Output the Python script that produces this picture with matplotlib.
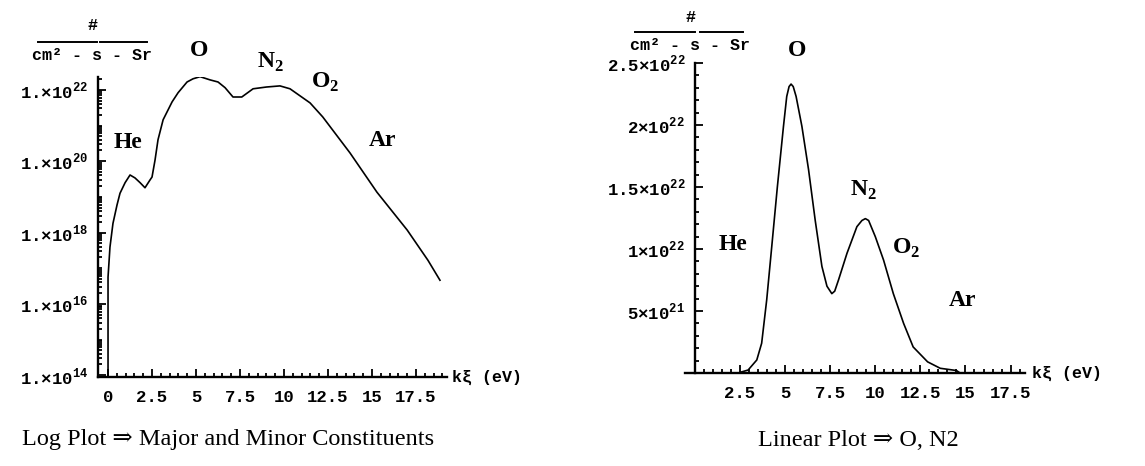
import numpy as np
import matplotlib.pyplot as plt
from matplotlib.ticker import FixedLocator, NullFormatter

plt.rcParams['mathtext.fontset'] = 'custom'
plt.rcParams['mathtext.rm'] = 'Liberation Mono:bold'
plt.rcParams['mathtext.bf'] = 'Liberation Serif:bold'

# Log plot: flux vs energy, all constituents
log_energy = [0, 0, 0.11, 0.28, 0.51, 0.68, 0.97, 1.25, 1.53, 1.82, 2.1, 2.39,
              2.5, 2.67, 2.84, 3.13, 3.64, 3.98, 4.49, 4.83, 5.23, 5.8, 6.25,
              6.65, 7.1, 7.6, 8.24, 9.0, 9.77, 10.34, 11.48, 12.2, 13.75,
              15.28, 17.0, 18.18, 18.86]
log_flux = [8.9e13, 5.6e16, 3.9e17, 1.8e18, 5.9e18, 1.26e19, 2.5e19, 4.1e19,
            3.4e19, 2.5e19, 1.8e19, 3.0e19, 3.6e19, 1.07e20, 4.0e20, 1.45e21,
            4.6e21, 8.3e21, 1.66e22, 2.04e22, 2.34e22, 1.9e22, 1.66e22,
            1.15e22, 6.3e21, 6.3e21, 1.07e22, 1.2e22, 1.29e22, 1.07e22,
            4.3e21, 1.74e21, 1.7e20, 1.35e19, 1.17e18, 1.66e17, 4.6e16]

# Linear plot: flux (units of 1e21) vs energy
lin_energy = [2.5, 2.95, 3.43, 3.7, 3.98, 4.26, 4.57, 4.91, 5.09, 5.22, 5.33,
              5.45, 5.61, 5.93, 6.3, 6.67, 7.04, 7.32, 7.59, 7.75, 7.96, 8.43,
              8.98, 9.26, 9.45, 9.63, 10.0, 10.46, 11.0, 11.57, 12.1, 12.9,
              13.6, 14.5, 14.7]
lin_flux = [0.05, 0.24, 1.05, 2.4, 5.9, 10.2, 15.0, 19.9, 22.3, 23.1, 23.3,
            23.1, 22.3, 19.9, 16.4, 12.3, 8.6, 7.0, 6.4, 6.6, 7.5, 9.65,
            11.8, 12.3, 12.45, 12.3, 11.0, 9.1, 6.4, 4.0, 2.1, 0.9, 0.38,
            0.2, 0.0]

log_yticks = [1e14, 1e16, 1e18, 1e20, 1e22]
log_ylabels = ['1.×10$^{14}$', '1.×10$^{16}$', '1.×10$^{18}$',
               '1.×10$^{20}$', '1.×10$^{22}$']
lin_yticks = [5e21, 1e22, 1.5e22, 2e22, 2.5e22]
lin_ylabels = ['5×10$^{21}$', '1×10$^{22}$', '1.5×10$^{22}$',
               '2×10$^{22}$', '2.5×10$^{22}$']
log_xticks = [0, 2.5, 5, 7.5, 10, 12.5, 15, 17.5]
log_xlabels = ['0', '2.5', '5', '7.5', '10', '12.5', '15', '17.5']
lin_xticks = [2.5, 5, 7.5, 10, 12.5, 15, 17.5]
lin_xlabels = ['2.5', '5', '7.5', '10', '12.5', '15', '17.5']

W, H = 1145, 466
fig = plt.figure(figsize=(W / 100, H / 100), dpi=100)


def box(x0, y0, x1, y1):
    return [x0 / W, 1 - y1 / H, (x1 - x0) / W, (y1 - y0) / H]


def ftext(x, y, s, **kw):
    fig.text(x / W, 1 - y / H, s, **kw)


mono = dict(family='Liberation Mono', fontweight='bold', fontsize=12)
bold = dict(family='Liberation Serif', fontweight='bold', fontsize=17,
            ha='center', va='center')
serif = dict(family=['Liberation Serif', 'DejaVu Serif'], fontsize=17.5,
             ha='center', va='center')


def style_axes(ax):
    for s in ['top', 'right']:
        ax.spines[s].set_visible(False)
    for s in ['left', 'bottom']:
        ax.spines[s].set_linewidth(1.7)
    ax.tick_params(which='both', direction='in', width=1.3, labelsize=12.5)
    ax.tick_params(which='major', length=6)
    ax.tick_params(which='minor', length=3)
    for lab in ax.get_xticklabels() + ax.get_yticklabels():
        lab.set_family('Liberation Mono')
        lab.set_fontweight('bold')


# ---- log plot ----
ax1 = fig.add_axes(box(98, 77, 447, 377))
ax1.plot(log_energy, log_flux, color='black', lw=1.2)
ax1.set_yscale('log')
ax1.set_xlim(-0.57, 19.26)
ax1.set_ylim(10 ** 13.95, 10 ** 22.36)
ax1.set_yticks(log_yticks)
ax1.set_yticklabels(log_ylabels)
minor_y = [k * 10.0 ** d for d in range(13, 23) for k in range(1, 10)
           if k * 10.0 ** d not in log_yticks]
ax1.yaxis.set_minor_locator(FixedLocator(minor_y))
ax1.yaxis.set_minor_formatter(NullFormatter())
ax1.set_xticks(log_xticks)
ax1.set_xticklabels(log_xlabels)
ax1.xaxis.set_minor_locator(FixedLocator(np.arange(0, 19.01, 0.5)))
style_axes(ax1)
ax1.tick_params(axis='y', pad=7)
ax1.tick_params(axis='x', pad=9)

# ---- linear plot ----
ax2 = fig.add_axes(box(685, 63, 1025, 373))
ax2.plot(lin_energy, np.array(lin_flux) * 1e21, color='black', lw=1.2)
ax2.set_xlim(-0.55, 18.3)
ax2.set_ylim(0, 2.5e22)
ax2.spines['left'].set_position(('data', 0))
ax2.set_yticks(lin_yticks)
ax2.set_yticklabels(lin_ylabels)
ax2.yaxis.set_minor_locator(FixedLocator(np.arange(1e21, 2.5e22, 1e21)))
ax2.set_xticks(lin_xticks)
ax2.set_xticklabels(lin_xlabels)
ax2.xaxis.set_minor_locator(FixedLocator(np.arange(0.5, 18.01, 0.5)))
style_axes(ax2)
ax2.tick_params(axis='y', pad=7)
ax2.tick_params(axis='x', pad=9)

# unit labels above the y axes
for cx, y_hash, y_bar, y_den, bars in [
        (92, 26, 42, 55, [(38, 97), (100, 147)]),
        (690, 18, 32, 46, [(635, 695), (700, 743)])]:
    ftext(cx, y_hash, '#', ha='center', va='center', **mono)
    for x0, x1 in bars:
        fig.add_artist(plt.Line2D([x0 / W, x1 / W], [1 - y_bar / H] * 2,
                                  color='black', lw=1.4))
    ftext(cx, y_den, 'cm² - s - Sr', ha='center', va='center', **mono)

ftext(452, 377, 'kξ (eV)', ha='left', va='center', **mono)
ftext(1032, 373, 'kξ (eV)', ha='left', va='center', **mono)

# species labels
for x, y, s in [(199, 50, 'O'), (270, 62, r'N$_{\mathbf{2}}$'),
                (325, 82, r'O$_{\mathbf{2}}$'), (128, 143, 'He'),
                (383, 140, 'Ar'),
                (797, 50, 'O'), (863, 190, r'N$_{\mathbf{2}}$'),
                (906, 248, r'O$_{\mathbf{2}}$'), (733, 244, 'He'),
                (963, 301, 'Ar')]:
    ftext(x, y, s, **bold)

ftext(228, 440, 'Log Plot ⇒ Major and Minor Constituents', **serif)
ftext(858, 440, 'Linear Plot ⇒ O, N2', **serif)

fig.savefig('out.png', dpi=100)
